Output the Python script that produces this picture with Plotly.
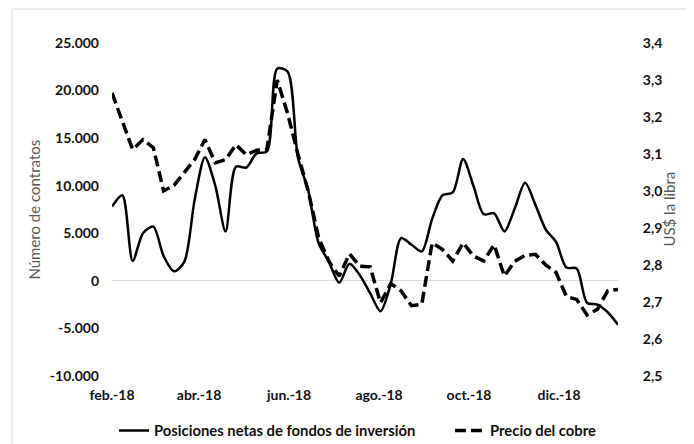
import pandas as pd
import plotly.graph_objects as go

# ---- data (weekly) ----
fechas = pd.date_range("2018-02-06", periods=50, freq="7D")

posiciones_netas = [
    7800, 9000, 2100, 5000, 5700, 2600, 1000, 2000, 8500, 13000,
    10000, 5200, 12000, 11900, 13400, 13600, 22300, 22000, 13000, 9500,
    4000, 2000, -200, 1800, 600, -1300, -3200, -300, 4500, 3800,
    3100, 6500, 9000, 9300, 12800, 10000, 7000, 7100, 5200, 7600,
    10300, 8000, 5400, 4100, 1400, 1300, -2300, -2500, -3300, -4600,
]

precio_cobre = [
    3.265, 3.188, 3.112, 3.139, 3.117, 3.000, 3.015, 3.050, 3.085, 3.139,
    3.076, 3.085, 3.125, 3.098, 3.110, 3.112, 3.300, 3.210, 3.100, 3.000,
    2.875, 2.810, 2.770, 2.830, 2.797, 2.795, 2.698, 2.750, 2.730, 2.690,
    2.694, 2.860, 2.842, 2.811, 2.860, 2.824, 2.811, 2.855, 2.770, 2.810,
    2.826, 2.829, 2.800, 2.780, 2.715, 2.707, 2.665, 2.680, 2.730, 2.734,
]

x_tick_fechas = ["2018-02-06", "2018-04-06", "2018-06-06", "2018-08-06", "2018-10-06", "2018-12-06"]
x_tick_labels = ["feb.-18", "abr.-18", "jun.-18", "ago.-18", "oct.-18", "dic.-18"]

y1_ticks = [-10000, -5000, 0, 5000, 10000, 15000, 20000, 25000]
y1_labels = ["-10.000", "-5.000", "0", "5.000", "10.000", "15.000", "20.000", "25.000"]

y2_ticks = [2.5, 2.6, 2.7, 2.8, 2.9, 3.0, 3.1, 3.2, 3.3, 3.4]
y2_labels = ["2,5", "2,6", "2,7", "2,8", "2,9", "3,0", "3,1", "3,2", "3,3", "3,4"]

FONT = "Lato"
tickfont = dict(family=FONT, size=14, color="#111111", weight="bold")
legfont = dict(family=FONT, size=14.8, color="#111111", weight="bold")

fig = go.Figure()
fig.add_trace(go.Scatter(
    x=fechas, y=posiciones_netas, name="Posiciones netas de fondos de inversión",
    mode="lines", line=dict(color="#000000", width=2.5, shape="spline", smoothing=0.8),
    yaxis="y", legend="legend",
))
fig.add_trace(go.Scatter(
    x=fechas, y=precio_cobre, name="Precio del cobre",
    mode="lines", line=dict(color="#000000", width=3.5, dash="11px,5px"),
    yaxis="y2", legend="legend2",
))

fig.update_layout(
    width=694, height=444,
    margin=dict(l=104, r=84, t=35, b=75.6, autoexpand=False),
    paper_bgcolor="white", plot_bgcolor="white",
    showlegend=True,
    legend=dict(
        orientation="h", x=0.004, xanchor="left", y=-0.165, yanchor="middle",
        font=legfont, bgcolor="rgba(0,0,0,0)",
    ),
    legend2=dict(
        orientation="h", x=0.668, xanchor="left", y=-0.165, yanchor="middle",
        font=legfont, bgcolor="rgba(0,0,0,0)",
    ),
    xaxis=dict(
        type="date", range=[fechas[0], fechas[-1]],
        tickvals=x_tick_fechas, ticktext=x_tick_labels,
        showgrid=False, zeroline=False, showline=False, ticks="",
        tickfont=tickfont, ticklabelstandoff=9,
    ),
    yaxis=dict(
        range=[-10000, 25000], tickvals=y1_ticks, ticktext=y1_labels,
        showgrid=False, zeroline=True, zerolinecolor="#d9d9d9", zerolinewidth=1.3,
        showline=False, ticks="", tickfont=tickfont, ticklabelstandoff=12,
    ),
    yaxis2=dict(
        range=[2.5, 3.4], tickvals=y2_ticks, ticktext=y2_labels,
        overlaying="y", side="right",
        showgrid=False, zeroline=False, showline=False,
        ticks="outside", ticklen=21, tickcolor="rgba(0,0,0,0)",
        tickfont=tickfont,
    ),
    annotations=[
        dict(text="Número de contratos", xref="paper", yref="paper",
             x=-0.156, y=0.5, xanchor="center", yanchor="middle", textangle=-90,
             showarrow=False, font=dict(family=FONT, size=15, color="#595959")),
        dict(text="US$ la libra", xref="paper", yref="paper",
             x=1.099, y=0.5, xanchor="center", yanchor="middle", textangle=-90,
             showarrow=False, font=dict(family=FONT, size=15, color="#595959")),
    ],
    shapes=[
        dict(type="rect", xref="paper", yref="paper",
             x0=-0.1976, x1=1.147, y0=-0.215, y1=1.102,
             line=dict(color="#d9d9d9", width=1), fillcolor="rgba(0,0,0,0)", layer="below"),
    ],
)

fig.write_html("out.html")
